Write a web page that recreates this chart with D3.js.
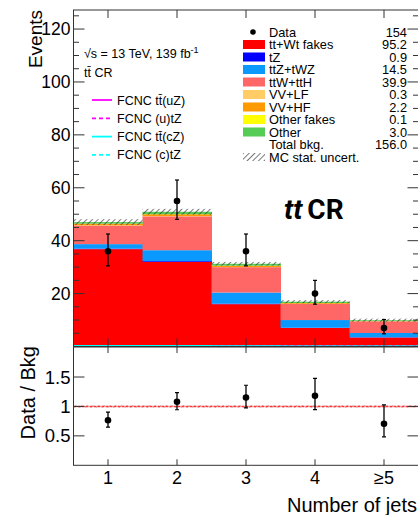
<!DOCTYPE html>
<html><head><meta charset="utf-8">
<script src="https://cdn.jsdelivr.net/npm/d3@7"></script>
<style>
html,body{margin:0;padding:0;background:#fff;}
svg{display:block;font-family:"Liberation Sans",Arial,Helvetica,sans-serif;}
</style></head>
<body><svg id="c" width="418" height="515"></svg>
<script>
// ---- data ----
const categories = ["1","2","3","4","≥5"];
const data = [36, 55, 36, 20, 7];
const ttWtFakes = [36.8, 32.0, 16.0, 7.0, 3.4];
const tZ = [0.2, 0.3, 0.2, 0.1, 0.1];
const ttZtWZ = [1.7, 4.1, 4.2, 2.9, 1.6];
const ttWttH = [7.0, 12.8, 9.6, 6.1, 4.4];
const vvLF = [0.1, 0.1, 0.05, 0.03, 0.02];
const vvHF = [0.6, 0.7, 0.5, 0.3, 0.1];
const otherFakes = [0.03, 0.03, 0.02, 0.01, 0.01];
const other = [0.6, 0.9, 0.7, 0.5, 0.3];
const mcStatUnc = [1.1, 1.1, 0.7, 0.6, 0.6];
const ratioUnc = [0.02, 0.02, 0.02, 0.02, 0.02];
const sigUZ = [0.15, 0.15, 0.1, 0.1, 0.05];
const sigUtZ = [0.1, 0.1, 0.08, 0.05, 0.03];
const sigCZ = [0.3, 0.3, 0.2, 0.1, 0.1];
const sigCtZ = [0.2, 0.2, 0.1, 0.08, 0.05];
const mainTicks = [20, 40, 60, 80, 100, 120];
const ratioTicks = [0.5, 1, 1.5];
const legendNames = ["tt+Wt fakes","tZ","ttZ+tWZ","ttW+ttH","VV+LF","VV+HF","Other fakes","Other"];
const legendYields = ["95.2","0.9","14.5","39.9","0.3","2.2","0.1","3.0"];
const dataYield = "154";
const totalYield = "156.0";
const colors = ["#ff0000","#0000ff","#0a99ff","#ff6666","#ffcc66","#ff9900","#ffff00","#55cc55"];
const signalNames = ["FCNC tt̄(uZ)","FCNC (u)tZ","FCNC tt̄(cZ)","FCNC (c)tZ"];

// ---- layout ----
const svg = d3.select("#c");
const L = 73.5, R = 418.5, T = 10, MB = 346.5, RT = 347, RB = 465.3;
const x = d3.scaleBand().domain(categories).range([L, R]).padding(0);
const y = d3.scaleLinear().domain([0, 127.2]).range([MB, T]);
const yr = d3.scaleLinear().domain([0, 2.01]).range([RB, RT]);

const defs = svg.append("defs");
const pat = defs.append("pattern").attr("id","hatch").attr("patternUnits","userSpaceOnUse")
  .attr("width",4).attr("height",4).attr("patternTransform","rotate(45)");
pat.append("line").attr("x1",0).attr("y1",0).attr("x2",0).attr("y2",4).attr("stroke","#333").attr("stroke-width",1.3);
defs.append("clipPath").attr("id","mclip").append("rect").attr("x",L).attr("y",T).attr("width",R-L).attr("height",MB-T);
defs.append("clipPath").attr("id","rclip").append("rect").attr("x",L).attr("y",RT).attr("width",R-L).attr("height",RB-RT);

// stacked bars
const series = [ttWtFakes, tZ, ttZtWZ, ttWttH, vvLF, vvHF, otherFakes, other];
const rows = categories.map((c,i)=>{ const o={cat:c}; series.forEach((s,k)=>o["s"+k]=s[i]); return o; });
const stack = d3.stack().keys(series.map((s,k)=>"s"+k))(rows);
const gMain = svg.append("g").attr("clip-path","url(#mclip)");
stack.forEach((layer,k)=>{
  gMain.append("g").selectAll("rect").data(layer).join("rect")
    .attr("x",d=>x(d.data.cat)).attr("width",x.bandwidth()+0.5)
    .attr("y",d=>y(d[1])).attr("height",d=>Math.max(0,y(d[0])-y(d[1])))
    .attr("fill",colors[k]);
});
const totals = categories.map((c,i)=>d3.sum(series,s=>s[i]));
// MC stat band
gMain.append("g").selectAll("rect").data(categories).join("rect")
  .attr("x",c=>x(c)).attr("width",x.bandwidth())
  .attr("y",(c,i)=>y(totals[i]+mcStatUnc[i])).attr("height",(c,i)=>y(totals[i]-mcStatUnc[i])-y(totals[i]+mcStatUnc[i]))
  .attr("fill","url(#hatch)");

// signal lines
const sigs = [[sigUZ,"#ff00ff",null],[sigUtZ,"#ff00ff","4,3"],[sigCZ,"#00ffff",null],[sigCtZ,"#00ffff","4,3"]];
sigs.forEach(([s,col,dash])=>{
  const pts=[]; categories.forEach((c,i)=>{pts.push([x(c),y(s[i])]);pts.push([x(c)+x.bandwidth(),y(s[i])]);});
  gMain.append("path").attr("d",d3.line()(pts)).attr("fill","none").attr("stroke",col).attr("stroke-width",1.5).attr("stroke-dasharray",dash);
});

// data points main
function errs(n){ return [n+0.5-Math.sqrt(n+0.25), n+0.5+Math.sqrt(n+0.25)]; }
const gD = svg.append("g");
categories.forEach((c,i)=>{
  const cx = x(c)+x.bandwidth()/2, e = errs(data[i]);
  gD.append("line").attr("x1",cx).attr("x2",cx).attr("y1",y(e[0])).attr("y2",y(e[1])).attr("stroke","#000").attr("stroke-width",1.3);
  [e[0],e[1]].forEach(v=>gD.append("line").attr("x1",cx-2).attr("x2",cx+2).attr("y1",y(v)).attr("y2",y(v)).attr("stroke","#000").attr("stroke-width",1.2));
  gD.append("circle").attr("cx",cx).attr("cy",y(data[i])).attr("r",3.3).attr("fill","#000");
});

// frame main
svg.append("rect").attr("x",L).attr("y",T).attr("width",R-L).attr("height",MB-T).attr("fill","none").attr("stroke","#333").attr("stroke-width",1);
// main y ticks
const gA = svg.append("g").attr("stroke","#333").attr("stroke-width",1);
d3.range(5,127,5).forEach(v=>{
  const major = v%20===0, len = major?11:5.5;
  gA.append("line").attr("x1",L).attr("x2",L+len).attr("y1",y(v)).attr("y2",y(v));
  gA.append("line").attr("x1",R-len).attr("x2",R).attr("y1",y(v)).attr("y2",y(v));
});
categories.forEach(c=>{
  const cx=x(c)+x.bandwidth()/2;
  gA.append("line").attr("x1",cx).attr("x2",cx).attr("y1",T).attr("y2",T+8);
  gA.append("line").attr("x1",cx).attr("x2",cx).attr("y1",MB).attr("y2",MB-8);
});
svg.append("g").selectAll("text").data(mainTicks).join("text")
  .attr("x",L-3).attr("y",d=>y(d)+6).attr("text-anchor","end").attr("font-size",17.5).text(d=>d);
svg.append("text").attr("transform","translate(41.5,10) rotate(-90)").attr("text-anchor","end").attr("font-size",19).text("Events");

// ratio panel
const gR = svg.append("g").attr("clip-path","url(#rclip)");
gR.append("g").selectAll("rect").data(categories).join("rect")
  .attr("x",c=>x(c)).attr("width",x.bandwidth())
  .attr("y",(c,i)=>yr(1+ratioUnc[i])).attr("height",(c,i)=>yr(1-ratioUnc[i])-yr(1+ratioUnc[i]))
  .attr("fill","url(#hatch)").attr("opacity",0.6);
gR.append("line").attr("x1",L).attr("x2",R).attr("y1",yr(1)).attr("y2",yr(1)).attr("stroke","#ff3333").attr("stroke-width",1.5).attr("stroke-dasharray","3,1");
categories.forEach((c,i)=>{
  const cx = x(c)+x.bandwidth()/2, e = errs(data[i]), r=data[i]/totals[i];
  const lo=e[0]/totals[i], hi=e[1]/totals[i];
  gR.append("line").attr("x1",cx).attr("x2",cx).attr("y1",yr(lo)).attr("y2",yr(hi)).attr("stroke","#000").attr("stroke-width",1.3);
  [lo,hi].forEach(v=>gR.append("line").attr("x1",cx-2).attr("x2",cx+2).attr("y1",yr(v)).attr("y2",yr(v)).attr("stroke","#000").attr("stroke-width",1.2));
  gR.append("circle").attr("cx",cx).attr("cy",yr(r)).attr("r",3.3).attr("fill","#000");
});
svg.append("rect").attr("x",L).attr("y",RT).attr("width",R-L).attr("height",RB-RT).attr("fill","none").attr("stroke","#333").attr("stroke-width",1);
const gRA = svg.append("g").attr("stroke","#333").attr("stroke-width",1);
ratioTicks.forEach(v=>{
  gRA.append("line").attr("x1",L).attr("x2",L+11).attr("y1",yr(v)).attr("y2",yr(v));
  gRA.append("line").attr("x1",R-11).attr("x2",R).attr("y1",yr(v)).attr("y2",yr(v));
});
categories.forEach(c=>{
  const cx=x(c)+x.bandwidth()/2;
  gRA.append("line").attr("x1",cx).attr("x2",cx).attr("y1",RT).attr("y2",RT+6);
  gRA.append("line").attr("x1",cx).attr("x2",cx).attr("y1",RB).attr("y2",RB-6);
});
svg.append("g").selectAll("text").data(ratioTicks).join("text")
  .attr("x",L-3).attr("y",d=>yr(d)+6.5).attr("text-anchor","end").attr("font-size",18.5).text(d=>d);
svg.append("text").attr("transform","translate(35,346) rotate(-90)").attr("text-anchor","end").attr("font-size",20).text("Data / Bkg");
svg.append("g").selectAll("text").data(categories).join("text")
  .attr("x",c=>x(c)+x.bandwidth()/2).attr("y",484).attr("text-anchor","middle").attr("font-size",18).text(c=>c);
svg.append("text").attr("x",417).attr("y",512).attr("text-anchor","end").attr("font-size",20).text("Number of jets");

// labels
const t1 = svg.append("text").attr("x",84).attr("y",58).attr("font-size",12.5);
t1.append("tspan").text("√s = 13 TeV, 139 fb");
t1.append("tspan").attr("dy",-5).attr("font-size",9).text("-1");
svg.append("text").attr("x",84).attr("y",77).attr("font-size",12.5).text("tt̄ CR");

// signal legend
signalNames.forEach((n,i)=>{
  const yy = 100 + i*18.3;
  const s = sigs[i];
  svg.append("line").attr("x1",92).attr("x2",112).attr("y1",yy).attr("y2",yy).attr("stroke",s[1]).attr("stroke-width",1.8).attr("stroke-dasharray",s[2]);
  svg.append("text").attr("x",117).attr("y",yy+4.5).attr("font-size",12.5).text(n);
});

// main legend
const lx0 = 243, ltx = 269, lvx = 407, ly0 = 32, ldy = 12.5, lfs = 12.8;
svg.append("circle").attr("cx",253).attr("cy",ly0).attr("r",2.8).attr("fill","#000");
svg.append("text").attr("x",ltx).attr("y",ly0+4.5).attr("font-size",lfs).text("Data");
svg.append("text").attr("x",lvx).attr("y",ly0+4.5).attr("font-size",lfs).attr("text-anchor","end").text(dataYield);
legendNames.forEach((n,i)=>{
  const yy = ly0 + (i+1)*ldy;
  svg.append("rect").attr("x",lx0).attr("y",yy-4.5).attr("width",22).attr("height",9).attr("fill",colors[i]);
  svg.append("text").attr("x",ltx).attr("y",yy+4.5).attr("font-size",lfs).text(n);
  svg.append("text").attr("x",lvx).attr("y",yy+4.5).attr("font-size",lfs).attr("text-anchor","end").text(legendYields[i]);
});
const yT = ly0 + 9*ldy;
svg.append("text").attr("x",ltx).attr("y",yT+4.5).attr("font-size",lfs).text("Total bkg.");
svg.append("text").attr("x",lvx).attr("y",yT+4.5).attr("font-size",lfs).attr("text-anchor","end").text(totalYield);
const yU = ly0 + 10*ldy;
svg.append("rect").attr("x",lx0).attr("y",yU-4).attr("width",22).attr("height",8).attr("fill","url(#hatch)");
svg.append("text").attr("x",ltx).attr("y",yU+4.5).attr("font-size",lfs).text("MC stat. uncert.");

// tt CR
const tc = svg.append("text").attr("x",284).attr("y",219).attr("font-size",28).attr("font-weight","bold").attr("font-family","Roboto, 'DejaVu Sans', sans-serif");
tc.append("tspan").attr("font-style","italic").text("tt");
tc.append("tspan").attr("dx",-2).text(" CR");
</script></body></html>
